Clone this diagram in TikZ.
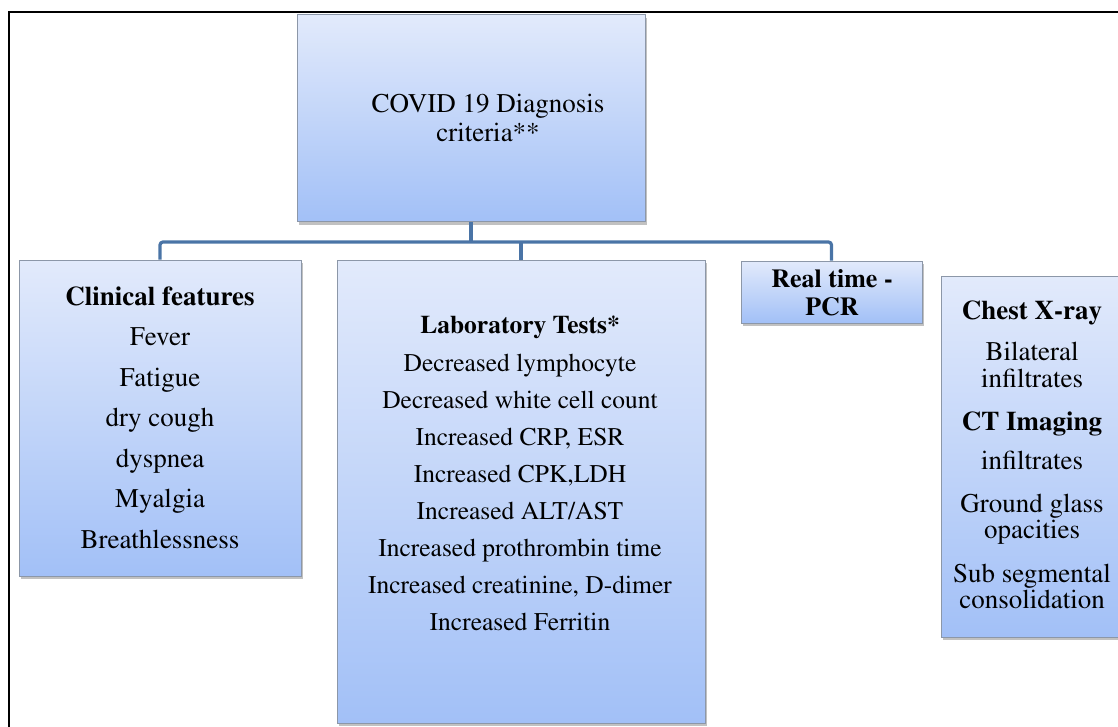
\documentclass[tikz,border=0pt]{standalone}
\usepackage[T1]{fontenc}
\usepackage{times}
\usetikzlibrary{shadows}
\definecolor{boxtop}{HTML}{E2EAFB}
\definecolor{boxbot}{HTML}{A2C0F7}
\definecolor{boxline}{HTML}{8C97A8}
\definecolor{conncol}{HTML}{4A74A6}
\newcommand\fsz[1]{\fontsize{#1}{#1}\selectfont}
\begin{document}
\begin{tikzpicture}[x=1pt,y=-1pt,
  boxnode/.style={draw=boxline, line width=1pt, top color=boxtop, bottom color=boxbot, inner sep=0pt,
    drop shadow={shadow xshift=2pt, shadow yshift=-3pt, opacity=0.35, fill=black!70}},
  conn/.style={draw=conncol, line width=3.2pt, rounded corners=3pt},
  txt/.style={inner sep=0pt, anchor=base, align=center}]
\path[use as bounding box] (0,0) rectangle (1118,727);
\clip (0,0) rectangle (1118,727);
% outer frame
\draw[line width=2.5pt] (9,760) -- (9,12) -- (1140,12);
% boxes
\node[boxnode, minimum width=348pt, minimum height=207pt] (top) at (471,118.5) {};
\node[boxnode, minimum width=282pt, minimum height=316pt] (clin) at (160,418) {};
\node[boxnode, minimum width=368pt, minimum height=463pt] (lab) at (521,491.5) {};
\node[boxnode, minimum width=181pt, minimum height=62pt] (pcr) at (831.5,292) {};
\node[boxnode, minimum width=182pt, minimum height=361pt] (chest) at (1032,456.5) {};
% connectors
\coordinate (bar) at (0,242);
\draw[conn] (clin.north) -- (clin.north |- bar) -- (pcr.north |- bar) -- (pcr.north);
\draw[conn] (top.south) -- (top.south |- bar);
\draw[conn] (lab.north) -- (lab.north |- bar);
% top text
\node[txt, font=\fsz{27}] (toptxt1) at (488,113) {COVID 19 Diagnosis};
\node[txt, font=\fsz{27}] (toptxt2) at (488,142) {criteria**};
% clinical
\node[txt, font=\fsz{27}\bfseries] (clinhead) at (160,305) {Clinical features};
\foreach \t [count=\i] in {Fever, Fatigue, dry cough, dyspnea, Myalgia, Breathlessness}
  \node[txt, font=\fsz{27}] (clin\i) at (160,{305+40.5*\i}) {\t};
% laboratory
\node[txt, font=\fsz{25.5}\bfseries] (labhead) at (520,333) {Laboratory Tests*};
\foreach \t [count=\i from 0] in {Decreased lymphocyte, Decreased white cell count, {Increased CRP, ESR}, {Increased CPK,LDH}, Increased ALT/AST, Increased prothrombin time, {Increased creatinine, D-dimer}, Increased Ferritin}
  \node[txt, font=\fsz{25.5}] (lab\i) at (520,{371+37*\i}) {\t};
% pcr
\node[txt, font=\fsz{26}\bfseries] (pcr1) at (832,287) {Real time -};
\node[txt, font=\fsz{26}\bfseries] (pcr2) at (832,315) {PCR};
% chest
\node[txt, font=\fsz{27}\bfseries] (ch1) at (1032,319) {Chest X-ray};
\node[txt, font=\fsz{27}] (ch2) at (1032,360) {Bilateral};
\node[txt, font=\fsz{27}] (ch3) at (1032,387) {infiltrates};
\node[txt, font=\fsz{27}\bfseries] (ch4) at (1032,430) {CT Imaging};
\node[txt, font=\fsz{27}] (ch5) at (1032,469) {infiltrates};
\node[txt, font=\fsz{27}] (ch6) at (1032,512) {Ground glass};
\node[txt, font=\fsz{27}] (ch7) at (1032,538) {opacities};
\node[txt, font=\fsz{27}] (ch8) at (1032,582) {Sub segmental};
\node[txt, font=\fsz{27}] (ch9) at (1032,608) {consolidation};
\end{tikzpicture}
\end{document}
